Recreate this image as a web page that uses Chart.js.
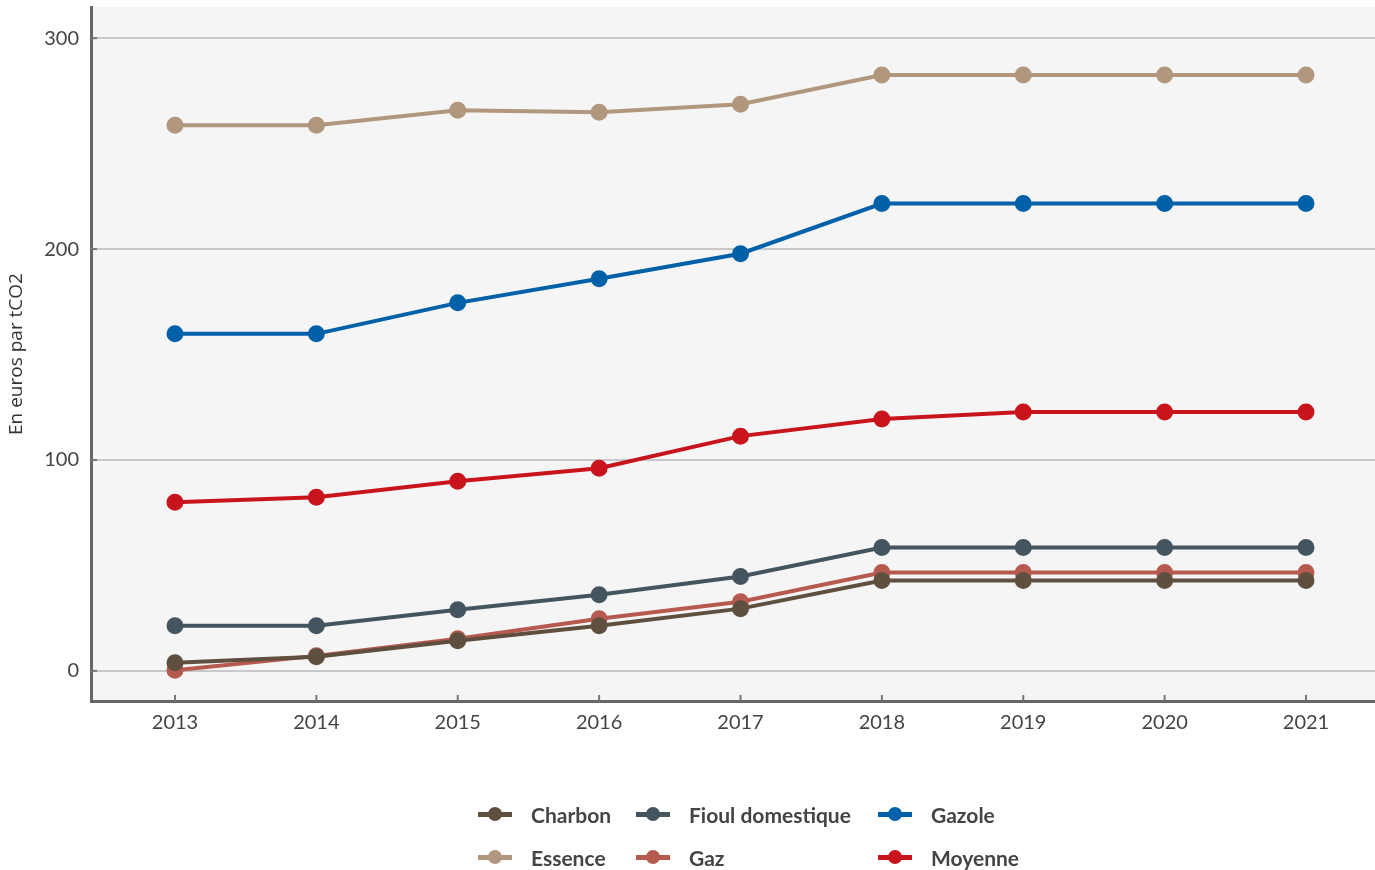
<!DOCTYPE html>
<html>
<head>
<meta charset="utf-8">
<script src="https://cdn.jsdelivr.net/npm/chart.js@4/dist/chart.umd.min.js"></script>
<style>
  html, body { margin: 0; padding: 0; background: #fff; }
  #wrap { position: relative; width: 1375px; height: 870px; }
  #legend {
    position: absolute; left: 478px; top: 797px;
    display: grid; grid-template-columns: 158px 242px auto;
    row-gap: 9px;
    font-family: Lato, "Open Sans", sans-serif; font-size: 21px; font-weight: 700; color: #444;
  }
  .item { display: flex; align-items: center; height: 34px; }
  .sym { position: relative; width: 34px; height: 34px; margin-right: 19px; }
  .sym .ln { position: absolute; left: 0; right: 0; top: 15px; height: 5px; }
  .sym .dot { position: absolute; left: 10px; top: 10px; width: 14px; height: 14px; border-radius: 50%; }
</style>
</head>
<body>
<div id="wrap">
  <canvas id="chart" width="1375" height="870"></canvas>
  <div id="legend"></div>
</div>
<script>
// Values (euros per tCO2)
const years = [2013, 2014, 2015, 2016, 2017, 2018, 2019, 2020, 2021];
const charbon = [3.8, 6.7, 14.3, 21.4, 29.5, 42.8, 42.8, 42.8, 42.8];
const fioul = [21.4, 21.4, 29.0, 36.1, 44.7, 58.5, 58.5, 58.5, 58.5];
const gazole = [159.8, 159.8, 174.5, 185.9, 197.8, 221.6, 221.6, 221.6, 221.6];
const essence = [258.7, 258.7, 265.8, 264.9, 268.7, 282.5, 282.5, 282.5, 282.5];
const gaz = [0.3, 7.1, 15.2, 24.7, 32.8, 46.6, 46.6, 46.6, 46.6];
const moyenne = [79.9, 82.3, 89.9, 96.1, 111.3, 119.4, 122.7, 122.7, 122.7];
const yTicks = [0, 100, 200, 300];

const series = [
    { label: 'Charbon', data: charbon, color: '#5f4f3e' },
    { label: 'Fioul domestique', data: fioul, color: '#44555f' },
    { label: 'Gazole', data: gazole, color: '#0060a8' },
    { label: 'Essence', data: essence, color: '#b0977e' },
    { label: 'Gaz', data: gaz, color: '#b65a4f' },
    { label: 'Moyenne', data: moyenne, color: '#c8141c' }
];

// plot background + inward tick marks
const plotDecor = {
    id: 'plotDecor',
    beforeDraw(chart) {
        const a = chart.chartArea, c = chart.ctx;
        c.save();
        c.fillStyle = '#f5f5f5';
        c.fillRect(a.left, a.top, a.right - a.left, a.bottom - a.top);
        c.restore();
    },
    afterDatasetsDraw(chart) {
        const a = chart.chartArea, c = chart.ctx;
        c.save();
        c.strokeStyle = '#777';
        c.lineWidth = 2;
        years.forEach(y => {
            const x = chart.scales.x.getPixelForValue(y);
            c.beginPath(); c.moveTo(x, a.bottom); c.lineTo(x, a.bottom - 6); c.stroke();
        });
        yTicks.forEach(v => {
            const y = chart.scales.y.getPixelForValue(v);
            c.beginPath(); c.moveTo(a.left, y); c.lineTo(a.left + 6, y); c.stroke();
        });
        c.restore();
    }
};

// drop the automatic edge padding Chart.js reserves for end labels
function noEdgePad(scale) {
    scale.paddingTop = 0; scale.paddingBottom = 0;
    scale.paddingLeft = 0; scale.paddingRight = 0;
}

const font = { family: 'Lato, "Open Sans", sans-serif', size: 20 };

new Chart(document.getElementById('chart'), {
    type: 'line',
    data: {
        datasets: series.map(s => ({
            label: s.label,
            data: s.data.map((v, i) => ({ x: years[i], y: v })),
            borderColor: s.color,
            backgroundColor: s.color,
            borderWidth: 4,
            pointRadius: 6.5,
            pointHoverRadius: 6.5,
            tension: 0
        }))
    },
    options: {
        responsive: false,
        animation: false,
        layout: { autoPadding: false, padding: { top: 7, right: 0, left: 0, bottom: 109 } },
        plugins: { legend: { display: false }, tooltip: { enabled: false } },
        scales: {
            x: {
                type: 'linear',
                min: 2012.406,
                max: 2021.488,
                afterBuildTicks: scale => { scale.ticks = years.map(v => ({ value: v })); },
                afterFit: scale => { scale.height = 60; noEdgePad(scale); },
                grid: { display: false, drawTicks: false },
                border: { color: '#666', width: 3 },
                ticks: { font: font, color: '#444', padding: 10, callback: v => String(v) }
            },
            y: {
                min: -14.3,
                max: 314.8,
                afterBuildTicks: scale => { scale.ticks = yTicks.map(v => ({ value: v })); },
                afterFit: scale => { scale.width = 91; noEdgePad(scale); },
                grid: { color: '#c8c8c8', lineWidth: 2, drawTicks: false },
                border: { color: '#666', width: 3 },
                ticks: { font: font, color: '#444', padding: 12 },
                title: { display: true, text: 'En euros par tCO2', font: { family: '"Open Sans", sans-serif', size: 19 }, color: '#333', padding: { top: 5, bottom: 2 } }
            }
        }
    },
    plugins: [plotDecor]
});

// legend in 3 columns, same order as reference
const legend = document.getElementById('legend');
series.forEach(s => {
    const item = document.createElement('div');
    item.className = 'item';
    item.innerHTML = '<div class="sym"><div class="ln" style="background:' + s.color + '"></div>' +
        '<div class="dot" style="background:' + s.color + '"></div></div><span>' + s.label + '</span>';
    legend.appendChild(item);
});
</script>
</body>
</html>
